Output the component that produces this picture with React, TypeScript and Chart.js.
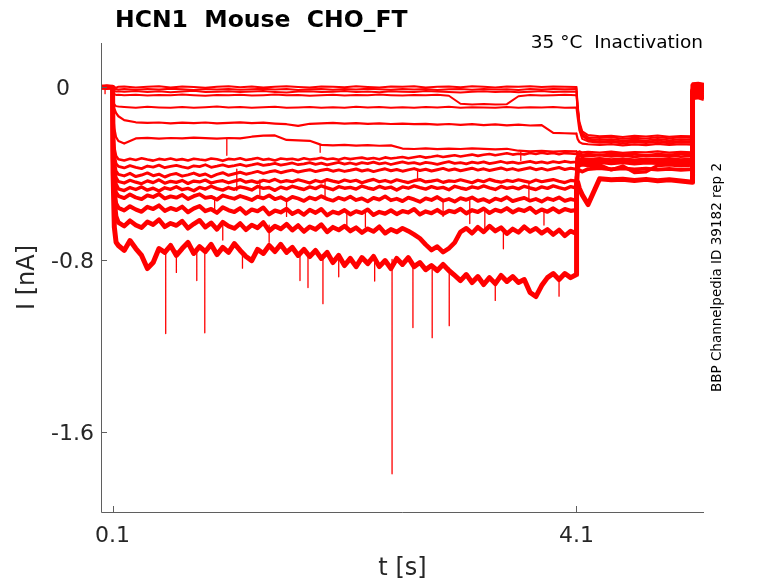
import { useEffect, useRef } from "react"
import { Chart, registerables } from "chart.js"

Chart.register(...registerables)

// time grids in seconds (coarse for quiet traces, fine for noisy ones)
const coarseTimes = [
  0, 0.05, 0.1, 0.104, 0.115, 0.13, 0.15,
  0.2, 0.3, 0.4, 0.5, 0.6, 0.7, 0.8, 0.9, 1.0, 1.1,
  1.2, 1.3, 1.4, 1.5, 1.6, 1.7, 1.8, 1.9, 2.0, 2.1,
  2.2, 2.3, 2.4, 2.5, 2.6, 2.7, 2.8, 2.9, 3.0, 3.1,
  3.2, 3.3, 3.4, 3.5, 3.6, 3.7, 3.8, 3.9, 4.0, 4.1,
  4.101, 4.11, 4.125, 4.15, 4.2, 4.3, 4.4, 4.5, 4.6, 4.7, 4.8, 4.9, 5.0, 5.1,
  5.101, 5.15, 5.2,
]

const fineTimes = [
  0, 0.05, 0.1, 0.104, 0.115, 0.13,
  0.15, 0.2, 0.25, 0.3, 0.35, 0.4, 0.45, 0.5, 0.55, 0.6,
  0.65, 0.7, 0.75, 0.8, 0.85, 0.9, 0.95, 1.0, 1.05, 1.1,
  1.15, 1.2, 1.25, 1.3, 1.35, 1.4, 1.45, 1.5, 1.55, 1.6,
  1.65, 1.7, 1.75, 1.8, 1.85, 1.9, 1.95, 2.0, 2.05, 2.1,
  2.15, 2.2, 2.25, 2.3, 2.35, 2.4, 2.45, 2.5, 2.55, 2.6,
  2.65, 2.7, 2.75, 2.8, 2.85, 2.9, 2.95, 3.0, 3.05, 3.1,
  3.15, 3.2, 3.25, 3.3, 3.35, 3.4, 3.45, 3.5, 3.55, 3.6,
  3.65, 3.7, 3.75, 3.8, 3.85, 3.9, 3.95, 4.0, 4.05, 4.1,
  4.101, 4.11, 4.125, 4.15, 4.2, 4.3, 4.4, 4.5, 4.6, 4.7, 4.8, 4.9, 5.0, 5.1,
  5.101, 5.15, 5.2,
]

// currents in nA, one sweep each
const sweep1 = [
  0.002, -0.002, 0.001, -0.004, 0.001, -0.002, 0.002,
  0.003, -0.002, 0.002, 0.004, -0.001, 0.003, 0.001, -0.003, 0.002, 0.004,
  0.000, 0.003, -0.002, 0.002, 0.004, 0.001, -0.002, 0.003, 0.002, 0.000,
  0.004, 0.001, -0.002, 0.003, 0.002, 0.004, -0.001, 0.002, 0.003, 0.000,
  0.004, 0.002, -0.001, 0.003, 0.002, 0.004, 0.001, 0.003, 0.002, 0.001,
  -0.010, -0.080, -0.160, -0.205, -0.222, -0.228, -0.225, -0.231, -0.226, -0.229, -0.224, -0.230, -0.227, -0.228,
  0.018, 0.020, 0.016,
]
const sweep2 = [
  0.000, 0.001, -0.001, -0.008, -0.010, -0.009, -0.011,
  -0.008, -0.012, -0.009, -0.011, -0.007, -0.010, -0.013, -0.009, -0.011, -0.008,
  -0.012, -0.010, -0.007, -0.011, -0.009, -0.013, -0.010, -0.008, -0.012, -0.009,
  -0.011, -0.007, -0.010, -0.012, -0.009, -0.011, -0.008, -0.013, -0.010, -0.009,
  -0.012, -0.008, -0.011, -0.010, -0.013, -0.009, -0.011, -0.008, -0.010, -0.009,
  -0.018, -0.088, -0.168, -0.214, -0.232, -0.236, -0.233, -0.239, -0.235, -0.238, -0.232, -0.237, -0.234, -0.236,
  0.012, 0.014, 0.010,
]
const sweep3 = [
  -0.001, 0.001, 0.000, -0.012, -0.018, -0.020, -0.019,
  -0.021, -0.018, -0.022, -0.019, -0.024, -0.020, -0.017, -0.022, -0.021, -0.019,
  -0.023, -0.020, -0.018, -0.022, -0.025, -0.020, -0.019, -0.023, -0.021, -0.018,
  -0.022, -0.020, -0.024, -0.019, -0.021, -0.023, -0.018, -0.020, -0.022, -0.025,
  -0.021, -0.019, -0.022, -0.020, -0.024, -0.021, -0.018, -0.022, -0.020, -0.021,
  -0.030, -0.095, -0.175, -0.222, -0.240, -0.245, -0.242, -0.248, -0.244, -0.247, -0.241, -0.246, -0.243, -0.245,
  0.006, 0.008, 0.004,
]
const sweep4 = [
  0.001, -0.001, 0.000, -0.020, -0.032, -0.036, -0.035,
  -0.037, -0.035, -0.039, -0.036, -0.038, -0.034, -0.037, -0.040, -0.036, -0.038,
  -0.035, -0.039, -0.037, -0.034, -0.038, -0.036, -0.040, -0.037, -0.035, -0.039,
  -0.036, -0.038, -0.034, -0.037, -0.039, -0.036, -0.038, -0.035, -0.040, -0.077,
  -0.080, -0.078, -0.081, -0.079, -0.042, -0.036, -0.039, -0.037, -0.035, -0.038,
  -0.045, -0.100, -0.178, -0.226, -0.246, -0.252, -0.249, -0.255, -0.250, -0.253, -0.248, -0.254, -0.250, -0.252,
  0.000, 0.004, -0.002,
]
const sweep5 = [
  0.000, 0.002, -0.001, -0.055, -0.080, -0.088, -0.090,
  -0.092, -0.095, -0.091, -0.094, -0.096, -0.092, -0.095, -0.093, -0.090, -0.094,
  -0.092, -0.096, -0.093, -0.091, -0.095, -0.094, -0.092, -0.096, -0.093, -0.095,
  -0.091, -0.094, -0.092, -0.095, -0.093, -0.096, -0.092, -0.094, -0.091, -0.095,
  -0.093, -0.094, -0.096, -0.092, -0.095, -0.093, -0.094, -0.092, -0.095, -0.094,
  -0.100, -0.140, -0.200, -0.240, -0.252, -0.258, -0.255, -0.261, -0.256, -0.259, -0.254, -0.260, -0.257, -0.258,
  -0.004, 0.000, -0.006,
]
const sweep6 = [
  0.001, -0.001, 0.000, -0.060, -0.100, -0.120, -0.135,
  -0.153, -0.163, -0.166, -0.164, -0.168, -0.165, -0.167, -0.164, -0.168, -0.166,
  -0.163, -0.167, -0.165, -0.169, -0.172, -0.180, -0.170, -0.168, -0.166, -0.169,
  -0.167, -0.170, -0.168, -0.171, -0.169, -0.172, -0.170, -0.174, -0.171, -0.175,
  -0.172, -0.176, -0.173, -0.177, -0.174, -0.178, -0.176, -0.212, -0.214, -0.216,
  -0.220, -0.240, -0.255, -0.262, -0.265, -0.268, -0.264, -0.270, -0.266, -0.269, -0.263, -0.268, -0.265, -0.267,
  -0.008, -0.004, -0.010,
]
const sweep7 = [
  0.000, -0.001, 0.001, -0.120, -0.190, -0.232, -0.250,
  -0.262, -0.238, -0.235, -0.239, -0.236, -0.238, -0.234, -0.237, -0.239, -0.236,
  -0.238, -0.230, -0.225, -0.224, -0.245, -0.247, -0.249, -0.268, -0.270, -0.268,
  -0.271, -0.269, -0.272, -0.270, -0.285, -0.287, -0.284, -0.288, -0.285, -0.287,
  -0.284, -0.286, -0.289, -0.286, -0.295, -0.298, -0.296, -0.299, -0.297, -0.298,
  -0.300, -0.302, -0.298, -0.303, -0.300, -0.304, -0.299, -0.305, -0.301, -0.303, -0.298, -0.304, -0.300, -0.302,
  -0.012, -0.008, -0.014,
]
const sweep8 = [
  0.001, -0.001, 0.000, -0.180, -0.280, -0.320,
  -0.335, -0.340, -0.332, -0.338, -0.330, -0.336, -0.341, -0.333, -0.337, -0.331,
  -0.338, -0.334, -0.340, -0.332, -0.336, -0.339, -0.331, -0.335, -0.342, -0.333,
  -0.336, -0.330, -0.338, -0.334, -0.329, -0.337, -0.333, -0.340, -0.331, -0.335,
  -0.332, -0.338, -0.330, -0.336, -0.333, -0.328, -0.335, -0.331, -0.337, -0.329,
  -0.334, -0.330, -0.327, -0.333, -0.329, -0.335, -0.326, -0.331, -0.328, -0.324,
  -0.330, -0.325, -0.321, -0.327, -0.323, -0.318, -0.324, -0.320, -0.316, -0.322,
  -0.317, -0.313, -0.319, -0.314, -0.310, -0.316, -0.311, -0.307, -0.313, -0.309,
  -0.312, -0.306, -0.310, -0.304, -0.309, -0.305, -0.311, -0.306, -0.308, -0.310,
  -0.310, -0.312, -0.308, -0.314, -0.310, -0.315, -0.309, -0.313, -0.310, -0.316, -0.311, -0.314, -0.309, -0.312,
  0.010, 0.013, 0.008,
]
const sweep9 = [
  0.000, 0.001, -0.001, -0.200, -0.310, -0.355,
  -0.368, -0.375, -0.364, -0.372, -0.378, -0.366, -0.371, -0.362, -0.374, -0.368,
  -0.363, -0.370, -0.376, -0.365, -0.369, -0.360, -0.372, -0.367, -0.361, -0.369,
  -0.364, -0.358, -0.366, -0.361, -0.355, -0.363, -0.359, -0.354, -0.362, -0.357,
  -0.352, -0.360, -0.356, -0.350, -0.358, -0.353, -0.361, -0.355, -0.349, -0.357,
  -0.352, -0.358, -0.350, -0.355, -0.348, -0.356, -0.351, -0.359, -0.353, -0.347,
  -0.354, -0.350, -0.357, -0.349, -0.353, -0.358, -0.351, -0.346, -0.354, -0.350,
  -0.356, -0.348, -0.353, -0.347, -0.355, -0.350, -0.345, -0.352, -0.348, -0.354,
  -0.349, -0.344, -0.351, -0.347, -0.353, -0.346, -0.350, -0.344, -0.349, -0.347,
  -0.330, -0.318, -0.322, -0.316, -0.320, -0.315, -0.321, -0.317, -0.323, -0.318, -0.320, -0.316, -0.322, -0.319,
  0.006, 0.009, 0.004,
]
const sweep10 = [
  -0.001, 0.000, 0.001, -0.220, -0.340, -0.390,
  -0.405, -0.412, -0.400, -0.415, -0.408, -0.398, -0.411, -0.404, -0.417, -0.406,
  -0.401, -0.413, -0.407, -0.399, -0.410, -0.403, -0.416, -0.405, -0.397, -0.409,
  -0.402, -0.395, -0.404, -0.398, -0.391, -0.400, -0.393, -0.388, -0.397, -0.390,
  -0.385, -0.394, -0.388, -0.383, -0.392, -0.386, -0.381, -0.390, -0.384, -0.391,
  -0.386, -0.380, -0.389, -0.383, -0.392, -0.385, -0.379, -0.388, -0.382, -0.390,
  -0.384, -0.378, -0.387, -0.381, -0.389, -0.383, -0.377, -0.386, -0.380, -0.388,
  -0.382, -0.376, -0.385, -0.379, -0.387, -0.381, -0.375, -0.384, -0.378, -0.386,
  -0.380, -0.374, -0.383, -0.377, -0.385, -0.379, -0.373, -0.382, -0.376, -0.381,
  -0.350, -0.328, -0.335, -0.330, -0.336, -0.331, -0.337, -0.332, -0.338, -0.333, -0.336, -0.331, -0.337, -0.334,
  -0.020, -0.016, -0.022,
]
const sweep11 = [
  0.001, -0.001, 0.000, -0.240, -0.370, -0.420,
  -0.438, -0.445, -0.432, -0.441, -0.448, -0.435, -0.443, -0.430, -0.446, -0.437,
  -0.442, -0.433, -0.447, -0.436, -0.440, -0.431, -0.445, -0.438, -0.434, -0.444,
  -0.436, -0.429, -0.441, -0.435, -0.443, -0.432, -0.438, -0.428, -0.440, -0.434,
  -0.439, -0.430, -0.437, -0.445, -0.433, -0.440, -0.429, -0.436, -0.442, -0.431,
  -0.438, -0.432, -0.444, -0.435, -0.428, -0.439, -0.433, -0.441, -0.430, -0.437,
  -0.443, -0.434, -0.429, -0.440, -0.436, -0.431, -0.442, -0.435, -0.438, -0.430,
  -0.437, -0.444, -0.432, -0.439, -0.428, -0.436, -0.441, -0.433, -0.438, -0.430,
  -0.436, -0.442, -0.431, -0.439, -0.434, -0.429, -0.437, -0.443, -0.433, -0.436,
  -0.360, -0.340, -0.346, -0.341, -0.347, -0.342, -0.348, -0.343, -0.349, -0.344, -0.347, -0.342, -0.348, -0.345,
  0.000, 0.004, -0.003,
]
const sweep12 = [
  0.000, 0.001, -0.001, -0.260, -0.400, -0.450,
  -0.472, -0.480, -0.466, -0.475, -0.463, -0.478, -0.469, -0.482, -0.467, -0.474,
  -0.462, -0.476, -0.470, -0.481, -0.465, -0.473, -0.460, -0.471, -0.478, -0.466,
  -0.474, -0.463, -0.469, -0.477, -0.461, -0.470, -0.466, -0.479, -0.464, -0.472,
  -0.460, -0.468, -0.475, -0.463, -0.471, -0.458, -0.467, -0.476, -0.462, -0.469,
  -0.465, -0.473, -0.459, -0.468, -0.474, -0.461, -0.470, -0.464, -0.477, -0.463,
  -0.469, -0.458, -0.466, -0.473, -0.462, -0.470, -0.465, -0.476, -0.460, -0.468,
  -0.474, -0.463, -0.469, -0.458, -0.467, -0.475, -0.461, -0.470, -0.464, -0.472,
  -0.460, -0.468, -0.475, -0.463, -0.470, -0.458, -0.466, -0.473, -0.462, -0.468,
  -0.400, -0.370, -0.365, -0.360, -0.364, -0.361, -0.384, -0.366, -0.396, -0.393, -0.364, -0.360, -0.365, -0.362,
  -0.040, -0.036, -0.044,
]
const sweep13 = [
  -0.001, 0.000, 0.001, -0.280, -0.440, -0.490,
  -0.505, -0.515, -0.498, -0.512, -0.520, -0.502, -0.510, -0.496, -0.517, -0.507,
  -0.513, -0.500, -0.519, -0.506, -0.497, -0.514, -0.509, -0.522, -0.503, -0.511,
  -0.518, -0.505, -0.514, -0.524, -0.508, -0.516, -0.502, -0.520, -0.511, -0.525,
  -0.509, -0.517, -0.528, -0.512, -0.521, -0.506, -0.519, -0.527, -0.513, -0.522,
  -0.508, -0.524, -0.516, -0.530, -0.514, -0.522, -0.507, -0.525, -0.518, -0.529,
  -0.513, -0.521, -0.532, -0.516, -0.524, -0.510, -0.527, -0.519, -0.531, -0.515,
  -0.523, -0.512, -0.528, -0.520, -0.533, -0.517, -0.525, -0.511, -0.529, -0.521,
  -0.514, -0.527, -0.519, -0.531, -0.516, -0.524, -0.512, -0.528, -0.520, -0.526,
  -0.420, -0.390, -0.385, -0.392, -0.380, -0.376, -0.381, -0.377, -0.382, -0.378, -0.383, -0.379, -0.384, -0.380,
  -0.030, -0.026, -0.034,
]
const sweep14 = [
  -0.001, 0.001, 0.000, -0.300, -0.480, -0.540,
  -0.560, -0.572, -0.553, -0.568, -0.578, -0.556, -0.565, -0.549, -0.574, -0.561,
  -0.570, -0.555, -0.580, -0.563, -0.552, -0.575, -0.566, -0.583, -0.558, -0.571,
  -0.579, -0.562, -0.587, -0.568, -0.576, -0.559, -0.590, -0.573, -0.581, -0.565,
  -0.588, -0.574, -0.592, -0.570, -0.583, -0.566, -0.595, -0.578, -0.586, -0.571,
  -0.590, -0.576, -0.584, -0.568, -0.593, -0.579, -0.587, -0.572, -0.589, -0.575,
  -0.582, -0.566, -0.591, -0.577, -0.585, -0.570, -0.588, -0.574, -0.580, -0.565,
  -0.586, -0.571, -0.579, -0.564, -0.584, -0.569, -0.577, -0.562, -0.581, -0.567,
  -0.575, -0.560, -0.583, -0.568, -0.578, -0.563, -0.580, -0.566, -0.574, -0.570,
  -0.450, -0.360, -0.352, -0.348, -0.352, -0.347, -0.353, -0.348, -0.354, -0.349, -0.352, -0.347, -0.353, -0.350,
  0.010, 0.013, 0.007,
]
const sweep15 = [
  0.001, -0.002, 0.000, -0.330, -0.520, -0.600,
  -0.628, -0.645, -0.620, -0.640, -0.652, -0.625, -0.638, -0.615, -0.648, -0.632,
  -0.642, -0.622, -0.655, -0.635, -0.618, -0.650, -0.630, -0.660, -0.627, -0.645,
  -0.656, -0.633, -0.662, -0.640, -0.653, -0.628, -0.667, -0.645, -0.658, -0.636,
  -0.664, -0.642, -0.670, -0.648, -0.660, -0.638, -0.672, -0.650, -0.663, -0.645,
  -0.668, -0.652, -0.675, -0.657, -0.670, -0.648, -0.678, -0.660, -0.672, -0.655,
  -0.668, -0.684, -0.702, -0.731, -0.756, -0.740, -0.766, -0.748, -0.722, -0.672,
  -0.655, -0.678, -0.650, -0.672, -0.645, -0.668, -0.652, -0.680, -0.658, -0.674,
  -0.648, -0.670, -0.655, -0.678, -0.660, -0.684, -0.663, -0.690, -0.668, -0.680,
  -0.500, -0.355, -0.345, -0.338, -0.342, -0.337, -0.343, -0.338, -0.344, -0.339, -0.342, -0.337, -0.343, -0.340,
  -0.050, -0.046, -0.054,
]
const sweep16 = [
  0.000, 0.002, -0.001, -0.400, -0.650, -0.720,
  -0.735, -0.758, -0.712, -0.749, -0.781, -0.842, -0.814, -0.749, -0.767, -0.735,
  -0.781, -0.749, -0.721, -0.772, -0.740, -0.763, -0.730, -0.777, -0.744, -0.767,
  -0.726, -0.758, -0.786, -0.805, -0.753, -0.772, -0.735, -0.763, -0.730, -0.767,
  -0.744, -0.781, -0.753, -0.786, -0.758, -0.795, -0.767, -0.814, -0.781, -0.828,
  -0.795, -0.833, -0.791, -0.819, -0.786, -0.833, -0.805, -0.842, -0.795, -0.823,
  -0.791, -0.833, -0.814, -0.847, -0.828, -0.851, -0.823, -0.851, -0.874, -0.898,
  -0.870, -0.907, -0.879, -0.916, -0.884, -0.912, -0.874, -0.902, -0.879, -0.907,
  -0.893, -0.953, -0.972, -0.921, -0.884, -0.865, -0.893, -0.865, -0.884, -0.870,
  -0.450, -0.440, -0.470, -0.500, -0.545, -0.425, -0.430, -0.427, -0.433, -0.428, -0.434, -0.430, -0.436, -0.441,
  -0.015, -0.010, -0.018,
]

// brief downward spikes: time, start and end current
const spikeTimes = [
  0.035, 0.558, 0.65, 0.826, 0.895, 0.98, 1.05, 1.085, 1.171, 1.22, 1.37, 1.45, 1.6, 1.716, 1.785,
  1.89, 1.914, 1.932, 2.05, 2.12, 2.28, 2.36, 2.51, 2.69, 2.73, 2.856, 2.95, 3.003, 3.18, 3.31,
  3.4, 3.47, 3.62, 3.69, 3.82, 3.95,
]
const spikeFrom = [
  0.0, -0.76, -0.76, -0.755, -0.76, -0.51, -0.63, -0.237, -0.38, -0.77, -0.43, -0.64, -0.53, -0.77, -0.77,
  -0.268, -0.78, -0.44, -0.79, -0.59, -0.58, -0.8, -0.8, -0.82, -0.385, -0.83, -0.52, -0.84, -0.526, -0.57,
  -0.9, -0.66, -0.3, -0.445, -0.57, -0.88,
]
const spikeTo = [
  -0.03, -1.144, -0.86, -0.898, -1.14, -0.58, -0.71, -0.316, -0.48, -0.84, -0.5, -0.72, -0.6, -0.898, -0.93,
  -0.302, -1.005, -0.51, -0.88, -0.66, -0.65, -0.9, -1.795, -1.116, -0.43, -1.163, -0.6, -1.107, -0.633, -0.665,
  -0.99, -0.75, -0.34, -0.516, -0.64, -0.97,
]

const xTicks = [0.1, 4.1]
const yTicks = [0, -0.8, -1.6]

const coarseSweeps = [sweep1, sweep2, sweep3, sweep4, sweep5, sweep6, sweep7]
const fineSweeps = [sweep8, sweep9, sweep10, sweep11, sweep12, sweep13, sweep14, sweep15, sweep16]
const coarseWidths = [2, 2, 2, 2, 2, 2.2, 2.2]
const fineWidths = [2.6, 2.8, 3, 3.2, 3.4, 3.8, 4.2, 4.6, 5]

const FONT = '"DejaVu Sans", sans-serif'
const AXIS = "#5f5f5f"
const TEXT = "#262626"

const textPlugin = {
  id: "matlabText",
  afterDraw(chart) {
    const { ctx, chartArea, scales } = chart
    const { left, right, top, bottom } = chartArea
    ctx.save()
    // axes and inward ticks
    ctx.strokeStyle = AXIS
    ctx.lineWidth = 1
    ctx.beginPath()
    ctx.moveTo(left + 0.5, top)
    ctx.lineTo(left + 0.5, bottom + 0.5)
    ctx.lineTo(right, bottom + 0.5)
    xTicks.forEach((v) => {
      const px = Math.round(scales.x.getPixelForValue(v)) + 0.5
      ctx.moveTo(px, bottom)
      ctx.lineTo(px, bottom - 6)
    })
    yTicks.forEach((v) => {
      const py = Math.round(scales.y.getPixelForValue(v)) + 0.5
      ctx.moveTo(left, py)
      ctx.lineTo(left + 6, py)
    })
    ctx.stroke()

    ctx.fillStyle = TEXT
    ctx.font = `22px ${FONT}`
    ctx.textBaseline = "alphabetic"
    ctx.textAlign = "center"
    xTicks.forEach((v) => {
      ctx.fillText(String(v), scales.x.getPixelForValue(v), bottom + 30)
    })
    ctx.textAlign = "right"
    yTicks.forEach((v) => {
      // the zero label sits further left in the original
      const rx = v === 0 ? left - 31 : left - 7
      ctx.fillText(String(v), rx, scales.y.getPixelForValue(v) + 8)
    })

    ctx.font = `24px ${FONT}`
    ctx.textAlign = "center"
    ctx.fillText("t [s]", (left + right) / 2, bottom + 63)
    ctx.save()
    ctx.translate(28, (top + bottom) / 2)
    ctx.rotate(-Math.PI / 2)
    ctx.textBaseline = "middle"
    ctx.fillText("I [nA]", 0, 0)
    ctx.restore()

    ctx.fillStyle = "#000"
    ctx.font = `bold 23.5px ${FONT}`
    ctx.textAlign = "left"
    ctx.fillText("HCN1  Mouse  CHO_FT", left + 14, 27)

    ctx.font = `18.5px ${FONT}`
    ctx.textAlign = "right"
    ctx.fillText("35 °C  Inactivation", right - 1, 48)

    ctx.save()
    ctx.translate(right + 13, (top + bottom) / 2)
    ctx.rotate(-Math.PI / 2)
    ctx.font = `13.5px ${FONT}`
    ctx.textAlign = "center"
    ctx.textBaseline = "middle"
    ctx.fillText("BBP Channelpedia ID 39182 rep 2", 0, 0)
    ctx.restore()
    ctx.restore()
  },
}

const toPoints = (times, values) => values.map((v, i) => ({ x: times[i], y: v }))

export default function App() {
  const canvasRef = useRef(null)

  useEffect(() => {
    const spikePoints = []
    spikeTimes.forEach((t, i) => {
      spikePoints.push({ x: t, y: spikeFrom[i] }, { x: t, y: spikeTo[i] }, { x: t, y: null })
    })

    const line = (data, width) => ({
      data,
      borderColor: "#ff0000",
      borderWidth: width,
      borderJoinStyle: "round",
      pointRadius: 0,
      tension: 0,
      spanGaps: false,
    })

    const datasets = [
      ...coarseSweeps.map((s, i) => line(toPoints(coarseTimes, s), coarseWidths[i])),
      ...fineSweeps.map((s, i) => line(toPoints(fineTimes, s), fineWidths[i])),
      line(spikePoints, 1.3),
    ]

    const chart = new Chart(canvasRef.current, {
      type: "line",
      data: { datasets },
      options: {
        animation: false,
        responsive: false,
        parsing: false,
        layout: { padding: { left: 101, top: 43, right: 74, bottom: 71 } },
        plugins: { legend: { display: false }, tooltip: { enabled: false } },
        scales: {
          x: { type: "linear", min: 0, max: 5.2, display: false },
          y: { type: "linear", min: -1.972, max: 0.205, display: false },
        },
      },
      plugins: [textPlugin],
    })

    return () => chart.destroy()
  }, [])

  return (
    <div style={{ position: "fixed", left: 0, top: 0, width: 778, height: 583, background: "#fff" }}>
      <canvas ref={canvasRef} width={778} height={583} />
    </div>
  )
}
